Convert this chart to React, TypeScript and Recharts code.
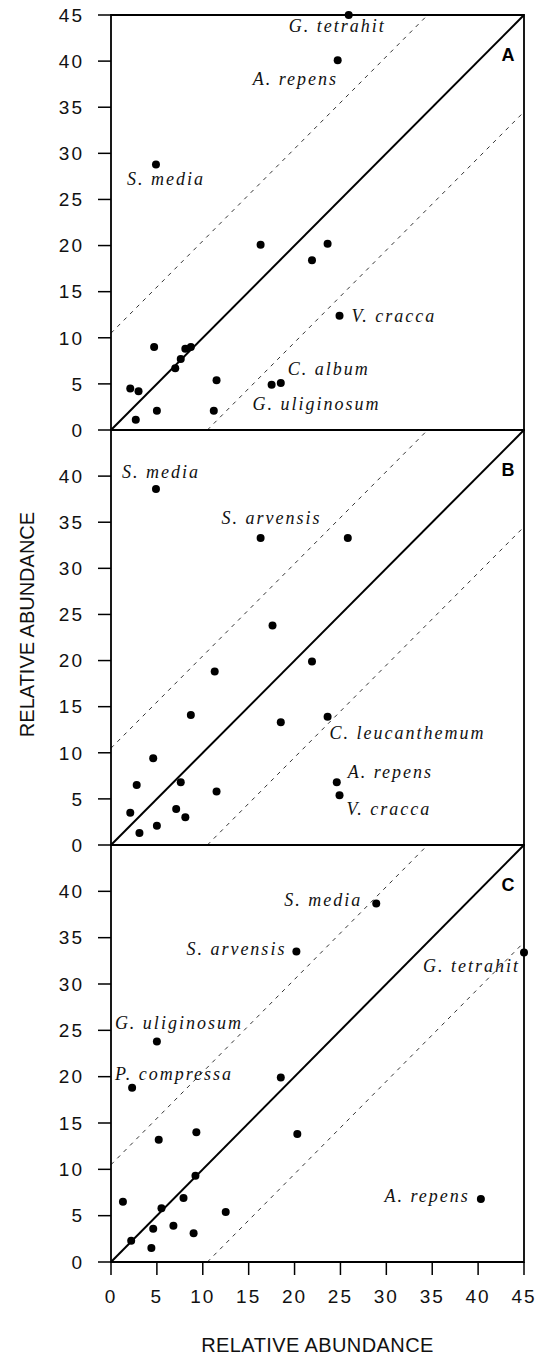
import { ScatterChart, Scatter, XAxis, YAxis, ReferenceLine, ReferenceArea } from 'recharts'

type Pt = { x: number; y: number; species?: string }

const panelA: Pt[] = [
  { x: 25.9, y: 45, species: 'G. tetrahit' },
  { x: 24.7, y: 40.1, species: 'A. repens' },
  { x: 4.9, y: 28.8, species: 'S. media' },
  { x: 16.3, y: 20.1 },
  { x: 23.6, y: 20.2 },
  { x: 21.9, y: 18.4 },
  { x: 24.9, y: 12.4, species: 'V. cracca' },
  { x: 4.7, y: 9.0 },
  { x: 8.1, y: 8.8 },
  { x: 8.7, y: 9.0 },
  { x: 7.6, y: 7.7 },
  { x: 7.0, y: 6.7 },
  { x: 11.5, y: 5.4 },
  { x: 2.1, y: 4.5 },
  { x: 3.0, y: 4.2 },
  { x: 17.5, y: 4.9, species: 'G. uliginosum' },
  { x: 18.5, y: 5.1, species: 'C. album' },
  { x: 5.0, y: 2.1 },
  { x: 11.2, y: 2.1 },
  { x: 2.7, y: 1.1 },
]

const panelB: Pt[] = [
  { x: 4.9, y: 38.6, species: 'S. media' },
  { x: 16.3, y: 33.3, species: 'S. arvensis' },
  { x: 25.8, y: 33.3 },
  { x: 17.6, y: 23.8 },
  { x: 21.9, y: 19.9 },
  { x: 11.3, y: 18.8 },
  { x: 8.7, y: 14.1 },
  { x: 18.5, y: 13.3 },
  { x: 23.6, y: 13.9, species: 'C. leucanthemum' },
  { x: 4.6, y: 9.4 },
  { x: 2.8, y: 6.5 },
  { x: 7.6, y: 6.8 },
  { x: 11.5, y: 5.8 },
  { x: 24.6, y: 6.8, species: 'A. repens' },
  { x: 24.9, y: 5.4, species: 'V. cracca' },
  { x: 2.1, y: 3.5 },
  { x: 7.1, y: 3.9 },
  { x: 8.1, y: 3.0 },
  { x: 5.0, y: 2.1 },
  { x: 3.1, y: 1.3 },
]

const panelC: Pt[] = [
  { x: 28.9, y: 38.7, species: 'S. media' },
  { x: 20.2, y: 33.5, species: 'S. arvensis' },
  { x: 45, y: 33.4, species: 'G. tetrahit' },
  { x: 5.0, y: 23.8, species: 'G. uliginosum' },
  { x: 2.3, y: 18.8, species: 'P. compressa' },
  { x: 18.5, y: 19.9 },
  { x: 5.2, y: 13.2 },
  { x: 9.3, y: 14.0 },
  { x: 20.3, y: 13.8 },
  { x: 9.2, y: 9.3 },
  { x: 1.3, y: 6.5 },
  { x: 7.9, y: 6.9 },
  { x: 5.5, y: 5.8 },
  { x: 12.5, y: 5.4 },
  { x: 40.3, y: 6.8, species: 'A. repens' },
  { x: 4.6, y: 3.6 },
  { x: 6.8, y: 3.9 },
  { x: 9.0, y: 3.1 },
  { x: 2.2, y: 2.3 },
  { x: 4.4, y: 1.5 },
]

const ticksFull = [0, 5, 10, 15, 20, 25, 30, 35, 40, 45]
const ticksLower = [0, 5, 10, 15, 20, 25, 30, 35, 40]
const axisMax = 45
const bandOffset = 10.5
const axisTitle = 'RELATIVE ABUNDANCE'

// where each species name sits relative to its dot (px)
type Place = { dx: number; dy: number; anchor: 'start' | 'end' }
const placeA: Record<string, Place> = {
  'G. tetrahit': { dx: -60, dy: 17, anchor: 'start' },
  'A. repens': { dx: -85, dy: 25, anchor: 'start' },
  'S. media': { dx: -29, dy: 21, anchor: 'start' },
  'V. cracca': { dx: 12, dy: 6, anchor: 'start' },
  'C. album': { dx: 7, dy: -8, anchor: 'start' },
  'G. uliginosum': { dx: -19, dy: 25, anchor: 'start' },
}
const placeB: Record<string, Place> = {
  'S. media': { dx: -34, dy: -11, anchor: 'start' },
  'S. arvensis': { dx: -39, dy: -14, anchor: 'start' },
  'C. leucanthemum': { dx: 2, dy: 22, anchor: 'start' },
  'A. repens': { dx: 11, dy: -4, anchor: 'start' },
  'V. cracca': { dx: 7, dy: 20, anchor: 'start' },
}
const placeC: Record<string, Place> = {
  'S. media': { dx: -14, dy: 3, anchor: 'end' },
  'S. arvensis': { dx: -10, dy: 3, anchor: 'end' },
  'G. tetrahit': { dx: -4, dy: 20, anchor: 'end' },
  'G. uliginosum': { dx: -42, dy: -12, anchor: 'start' },
  'P. compressa': { dx: -17, dy: -8, anchor: 'start' },
  'A. repens': { dx: -11, dy: 3, anchor: 'end' },
}

const sans = '"Liberation Sans", Arial, sans-serif'
const serif = '"Liberation Serif", "Times New Roman", serif'
const tickStyle = { fill: '#111', fontSize: 19, fontFamily: sans, letterSpacing: 2 }

const makeDot = (place: Record<string, Place>) => (props: any) => {
  const { cx, cy, payload } = props
  const p = payload.species ? place[payload.species] : undefined
  return (
    <g>
      <circle cx={cx} cy={cy} r={4} fill="#000" />
      {p && (
        <text
          x={cx + p.dx}
          y={cy + p.dy}
          textAnchor={p.anchor}
          fontFamily={serif}
          fontStyle="italic"
          fontSize={18}
          letterSpacing={2}
          fill="#111"
        >
          {payload.species}
        </text>
      )}
    </g>
  )
}

const panelLetter = (letter: string) => (props: any) => {
  const vb = props.viewBox
  return (
    <text x={vb.x + vb.width - 16} y={vb.y + 46} textAnchor="middle" fontFamily={sans} fontWeight="bold" fontSize={18} fill="#000">
      {letter}
    </text>
  )
}

interface PanelProps {
  data: Pt[]
  place: Record<string, Place>
  letter: string
  yTicks: number[]
  top: number
  height: number
  margin: { top: number; right: number; bottom: number; left: number }
  showX?: boolean
  showYTitle?: boolean
}

function Panel({ data, place, letter, yTicks, top, height, margin, showX, showYTitle }: PanelProps) {
  return (
    <div style={{ position: 'absolute', left: 0, top }}>
      <ScatterChart width={539} height={height} margin={margin}>
        <XAxis
          type="number"
          dataKey="x"
          domain={[0, axisMax]}
          ticks={ticksFull}
          interval={0}
          hide={!showX}
          height={95}
          axisLine={false}
          tickSize={13}
          tickMargin={15}
          tickLine={{ stroke: '#000', strokeWidth: 1.5 }}
          tick={tickStyle}
          label={(props: any) => {
            const vb = props.viewBox
            return (
              <text x={vb.x + vb.width / 2} y={vb.y + 90} textAnchor="middle" fontFamily={sans} fontSize={20} letterSpacing={0.4} fill="#111">
                {axisTitle}
              </text>
            )
          }}
        />
        <YAxis
          type="number"
          dataKey="y"
          domain={[0, axisMax]}
          ticks={yTicks}
          interval={0}
          width={111}
          axisLine={false}
          tickSize={13}
          tickMargin={14}
          tickLine={{ stroke: '#000', strokeWidth: 1.5 }}
          tick={tickStyle}
          label={
            showYTitle
              ? (props: any) => {
                  const vb = props.viewBox
                  const cx = 27
                  const cy = vb.y + vb.height / 2 - 13
                  return (
                    <text x={cx} y={cy} transform={`rotate(-90 ${cx} ${cy})`} textAnchor="middle" dominantBaseline="central" fontFamily={sans} fontSize={20} fill="#111">
                      {axisTitle}
                    </text>
                  )
                }
              : undefined
          }
        />
        <ReferenceLine
          segment={[{ x: 0, y: bandOffset }, { x: axisMax - bandOffset, y: axisMax }]}
          stroke="#000"
          strokeWidth={0.8}
          strokeDasharray="4 5"
        />
        <ReferenceLine
          segment={[{ x: bandOffset, y: 0 }, { x: axisMax, y: axisMax - bandOffset }]}
          stroke="#000"
          strokeWidth={0.8}
          strokeDasharray="4 5"
        />
        <ReferenceLine segment={[{ x: 0, y: 0 }, { x: axisMax, y: axisMax }]} stroke="#000" strokeWidth={2} />
        <ReferenceArea
          x1={0}
          x2={axisMax}
          y1={0}
          y2={axisMax}
          fill="none"
          fillOpacity={0}
          stroke="#000"
          strokeWidth={1.8}
          ifOverflow="visible"
          label={panelLetter(letter)}
        />
        <Scatter data={data} shape={makeDot(place)} isAnimationActive={false} />
      </ScatterChart>
    </div>
  )
}

export default function App() {
  return (
    <div style={{ position: 'absolute', left: 0, top: 0, width: 539, height: 1357, background: '#fff' }}>
      <Panel data={panelA} place={placeA} letter="A" yTicks={ticksFull} top={0} height={440} margin={{ top: 15, right: 15, bottom: 10, left: 0 }} />
      <Panel data={panelB} place={placeB} letter="B" yTicks={ticksLower} top={420} height={435} margin={{ top: 10, right: 15, bottom: 10, left: 0 }} showYTitle />
      <Panel data={panelC} place={placeC} letter="C" yTicks={ticksLower} top={835} height={522} margin={{ top: 10, right: 15, bottom: 0, left: 0 }} showX />
    </div>
  )
}
